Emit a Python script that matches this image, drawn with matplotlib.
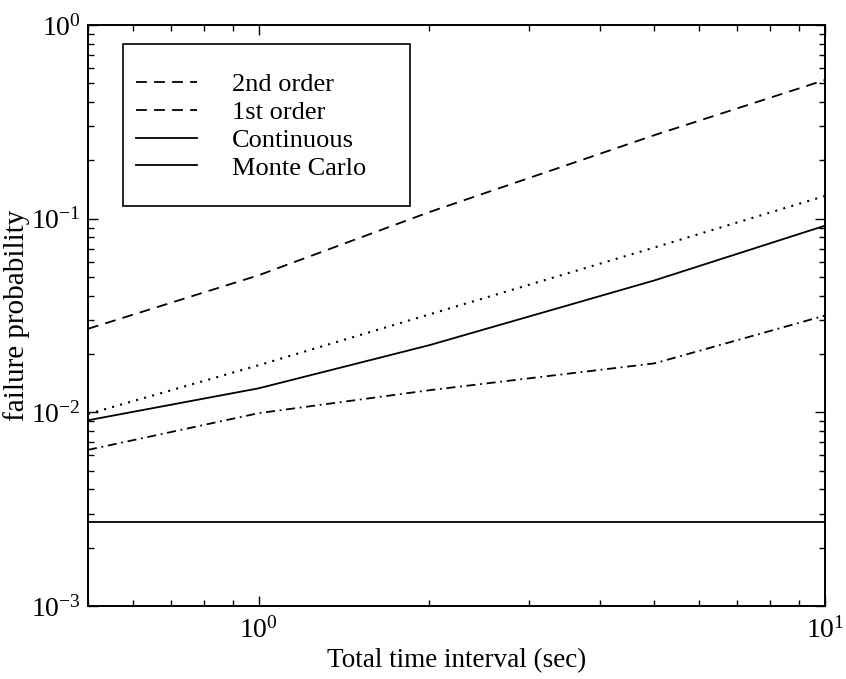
import matplotlib
matplotlib.use("Agg")
import matplotlib.pyplot as plt
from matplotlib.lines import Line2D
from matplotlib.patches import Rectangle
from matplotlib.ticker import LogLocator, NullFormatter

# ---- data ----
t_interval = [0.5, 1.0, 2.0, 5.0, 10.0]               # sec
second_order = [0.027, 0.051, 0.108, 0.27, 0.52]       # dashed
first_order = [0.0098, 0.0175, 0.032, 0.071, 0.131]    # dotted
continuous = [0.0091, 0.0133, 0.0222, 0.048, 0.092]    # solid
monte_carlo = [0.0064, 0.0099, 0.013, 0.0179, 0.0316]  # dash-dot
reference = [0.0027, 0.0027, 0.0027, 0.0027, 0.0027]  # flat solid

legend_labels = ["2nd order", "1st order", "Continuous", "Monte Carlo"]

plt.rcParams["font.family"] = ["Liberation Serif", "DejaVu Serif"]
plt.rcParams["mathtext.fontset"] = "stix"
FS = 19

fig = plt.figure(figsize=(8.46, 6.79), dpi=100)
ax = fig.add_axes([88 / 846, 1 - 606 / 679, (825 - 88) / 846, (606 - 25) / 679])

lw = 1.3
DASH = (6.0, 4.0)
ax.plot(t_interval, second_order, color="k", lw=lw, dashes=DASH)
ax.plot(t_interval, first_order, color="k", lw=lw + 0.2, dashes=(1.0, 3.0))
ax.plot(t_interval, continuous, color="k", lw=lw, linestyle="-")
ax.plot(t_interval, monte_carlo, color="k", lw=lw, dashes=(5.0, 2.6, 1.0, 2.6))
ax.plot(t_interval, reference, color="k", lw=lw, linestyle="-")

ax.set_xscale("log")
ax.set_yscale("log")
ax.set_xlim(0.5, 10)
ax.set_ylim(1e-3, 1)

ax.xaxis.set_major_locator(LogLocator(base=10, numticks=10))
ax.yaxis.set_major_locator(LogLocator(base=10, numticks=10))
ax.xaxis.set_minor_locator(LogLocator(base=10, subs=range(2, 10), numticks=20))
ax.yaxis.set_minor_locator(LogLocator(base=10, subs=range(2, 10), numticks=20))
ax.xaxis.set_minor_formatter(NullFormatter())
ax.yaxis.set_minor_formatter(NullFormatter())

ax.tick_params(which="both", direction="in", top=True, right=True,
               width=1.0, labelsize=20)
ax.tick_params(which="major", length=7)
ax.tick_params(axis="y", which="major", pad=5)
ax.tick_params(axis="x", which="major", pad=8)
ax.tick_params(which="minor", length=4)
for sp in ax.spines.values():
    sp.set_linewidth(1.4)

ax.set_xlabel("Total time interval (sec)", fontsize=19.5, labelpad=3)
ax.set_ylabel("failure probability", fontsize=21, labelpad=1)

# legend as printed: two dashed keys and two solid keys, box drawn separately
handles = [
    Line2D([], [], color="k", lw=lw, dashes=DASH),
    Line2D([], [], color="k", lw=lw, dashes=DASH),
    Line2D([], [], color="k", lw=lw, linestyle="-"),
    Line2D([], [], color="k", lw=lw, linestyle="-"),
]
leg = ax.legend(handles, legend_labels, loc="upper left",
                bbox_to_anchor=(136 / 846, 1 - 73 / 679),
                bbox_transform=fig.transFigure, borderaxespad=0,
                fontsize=FS, frameon=False, borderpad=0,
                labelspacing=0.16, handlelength=2.3, handletextpad=1.35)
leg.set_zorder(6)
box = Rectangle((123 / 846, 1 - 206 / 679), (410 - 123) / 846, (206 - 44) / 679,
                transform=fig.transFigure, facecolor="white",
                edgecolor="k", lw=1.2, zorder=5, clip_on=False)
ax.add_patch(box)

fig.savefig("out.png", dpi=100, facecolor="white")
